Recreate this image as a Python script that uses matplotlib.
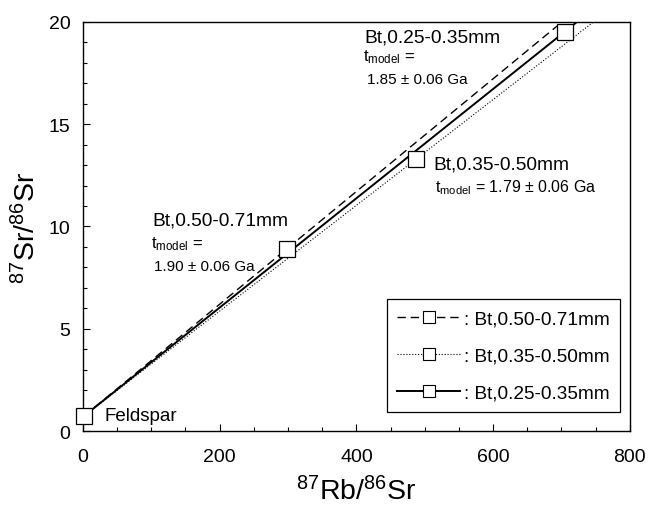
import matplotlib
matplotlib.use('Agg')
from matplotlib import pyplot as plt
from matplotlib.ticker import MultipleLocator
import numpy as np

plt.rcParams['font.family'] = ['Liberation Sans', 'DejaVu Sans']
plt.rcParams['mathtext.fontset'] = 'custom'
plt.rcParams['mathtext.rm'] = 'Liberation Sans'
plt.rcParams['mathtext.it'] = 'Liberation Sans'

# feldspar point (common origin of the isochrons)
fsp_rb = 2.0
fsp_sr = 0.75

# biotite fractions
bt_labels = ['Bt,0.50-0.71mm', 'Bt,0.35-0.50mm', 'Bt,0.25-0.35mm']
bt_rb = [298.0, 487.0, 705.0]
bt_sr = [8.9, 13.28, 19.52]
bt_ages = ['1.90', '1.79', '1.85']
styles = ['--', ':', '-']

fig, ax = plt.subplots(figsize=(6.48, 5.06), dpi=100)
fig.subplots_adjust(left=0.128, right=0.972, bottom=0.146, top=0.955)

x_end = 800
for lab, rb, sr, ls in zip(bt_labels, bt_rb, bt_sr, styles):
    slope = (sr - fsp_sr) / (rb - fsp_rb)
    xs = np.array([fsp_rb, x_end])
    ys = fsp_sr + slope * (xs - fsp_rb)
    lw = 1.4 if ls == '-' else (0.8 if ls == ':' else 1.0)
    kw = dict(dashes=(6, 3.5)) if ls == '--' else {}
    ax.plot(xs, ys, ls, color='black', lw=lw, zorder=2, **kw)
    ax.plot(rb, sr, 's', ms=12, mfc='white', mec='black', mew=0.9, zorder=3)
    # legend proxy
    ax.plot([], [], ls, color='black', lw=lw, marker='s', ms=9,
            mfc='white', mec='black', mew=0.8, label=': ' + lab, **kw)

ax.plot(fsp_rb, fsp_sr, 's', ms=12, mfc='white', mec='black', mew=0.9, zorder=3,
        clip_on=False)

# annotations
ax.text(31, 0.78, 'Feldspar', fontsize=13.5, va='center')

ax.text(101, 10.32, bt_labels[0], fontsize=13.8, va='center')
ax.text(99, 9.2, r'$\mathregular{t_{model}}$ =', fontsize=12, va='center')
ax.text(104, 8.07, bt_ages[0] + ' \u00b1 0.06 Ga', fontsize=11, va='center')

ax.text(513, 13.05, bt_labels[1], fontsize=13.8, va='center')
ax.text(515, 11.93, r'$\mathregular{t_{model}}$ = ' + bt_ages[1] + ' \u00b1 0.06 Ga',
        fontsize=11.5, va='center')

ax.text(412, 19.27, bt_labels[2], fontsize=13.8, va='center')
ax.text(410, 18.32, r'$\mathregular{t_{model}}$ =', fontsize=12, va='center')
ax.text(415, 17.2, bt_ages[2] + ' \u00b1 0.06 Ga', fontsize=11, va='center')

ax.set_xlim(0, 800)
ax.set_ylim(0, 20)
ax.xaxis.set_major_locator(MultipleLocator(200))
ax.xaxis.set_minor_locator(MultipleLocator(50))
ax.yaxis.set_major_locator(MultipleLocator(5))
ax.yaxis.set_minor_locator(MultipleLocator(1))
ax.tick_params(which='both', direction='in', labelsize=14, width=0.8)
ax.tick_params(which='major', length=5)
ax.tick_params(axis='x', which='major', pad=12)
ax.tick_params(axis='y', which='major', pad=9)
ax.tick_params(which='minor', length=3)
for s in ax.spines.values():
    s.set_linewidth(1.0)

ax.set_xlabel(r'$\mathregular{^{87}Rb/^{86}Sr}$', fontsize=20.5, labelpad=8)
ax.set_ylabel(r'$\mathregular{^{87}Sr/^{86}Sr}$', fontsize=20.5, labelpad=5)

leg = ax.legend(loc='lower right', bbox_to_anchor=(0.982, 0.046), fontsize=13.7,
                handlelength=3.3, handletextpad=0.2, labelspacing=1.05,
                borderpad=0.55, borderaxespad=0, fancybox=False, framealpha=1,
                edgecolor='black')
leg.get_frame().set_linewidth(0.9)

fig.savefig('out.png', dpi=100)
